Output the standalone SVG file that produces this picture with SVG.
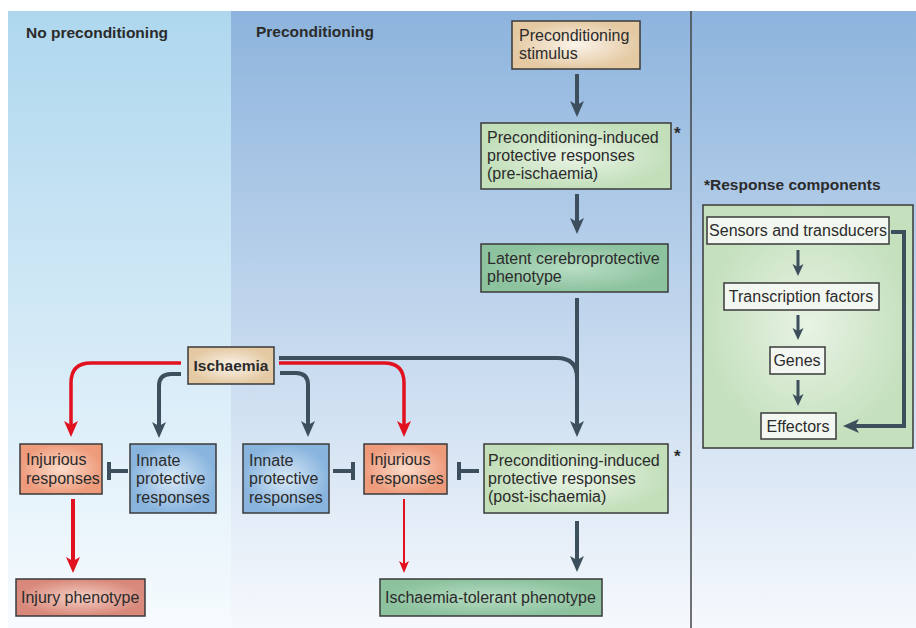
<svg xmlns="http://www.w3.org/2000/svg" width="916" height="628" viewBox="0 0 916 628">
<defs>
<linearGradient id="gL" x1="0" y1="0" x2="0" y2="1"><stop offset="0" stop-color="#aed7ee"/><stop offset="1" stop-color="#f6fbfe"/></linearGradient>
<linearGradient id="gM" x1="0" y1="0" x2="0" y2="1"><stop offset="0" stop-color="#8db4dd"/><stop offset="1" stop-color="#f6f9fd"/></linearGradient>
<radialGradient id="tan"><stop offset="0" stop-color="#fbf4ea"/><stop offset="1" stop-color="#e4c9a3"/></radialGradient>
<radialGradient id="lg"><stop offset="0" stop-color="#eaf4e6"/><stop offset="1" stop-color="#c2dfba"/></radialGradient>
<radialGradient id="dg"><stop offset="0" stop-color="#b8ddc3"/><stop offset="1" stop-color="#8cc29e"/></radialGradient>
<radialGradient id="sal"><stop offset="0" stop-color="#fbdccb"/><stop offset="1" stop-color="#ee9b7c"/></radialGradient>
<radialGradient id="blu"><stop offset="0" stop-color="#d8e9f7"/><stop offset="1" stop-color="#88b4de"/></radialGradient>
<radialGradient id="inj"><stop offset="0" stop-color="#f5cfc4"/><stop offset="1" stop-color="#d8897b"/></radialGradient>
<radialGradient id="rg"><stop offset="0" stop-color="#e8f3e4"/><stop offset="1" stop-color="#c4e0bd"/></radialGradient>
<marker id="ad" markerUnits="userSpaceOnUse" markerWidth="18" markerHeight="16" refX="8" refY="8" orient="auto"><path d="M0,1 L16,8 L0,15 L4,8 z" fill="#3d4f5c"/></marker>
<marker id="ar" markerUnits="userSpaceOnUse" markerWidth="18" markerHeight="16" refX="8" refY="8" orient="auto"><path d="M0,1 L16,8 L0,15 L4,8 z" fill="#e1111f"/></marker>
<marker id="ars" markerUnits="userSpaceOnUse" markerWidth="14" markerHeight="12" refX="6" refY="6" orient="auto"><path d="M0,1 L12,6 L0,11 L3,6 z" fill="#e1111f"/></marker>
<marker id="ads" markerUnits="userSpaceOnUse" markerWidth="14" markerHeight="14" refX="6" refY="6.5" orient="auto"><path d="M0,1 L12,6.5 L0,12 L3,6.5 z" fill="#3d4f5c"/></marker>
</defs>
<style>
text{font-family:"Liberation Sans",Arial,sans-serif;font-size:16px;fill:#2b2b2b}
.t{font-weight:bold;font-size:15.5px}
.a{font-size:17px;font-weight:bold}
.b{stroke:#3a3a3a;stroke-width:1.5}
.w{fill:#f3f7f1;stroke:#3a3a3a;stroke-width:1.5}
.d{fill:none;stroke:#3d4f5c;stroke-width:4}
.r{fill:none;stroke:#e1111f;stroke-width:3.5}
.c{text-anchor:middle}
</style>
<g id="panels">
<rect x="8" y="11" width="223" height="617" fill="url(#gL)"/>
<rect x="231" y="11" width="460" height="617" fill="url(#gM)"/>
<rect x="691" y="11" width="225" height="617" fill="url(#gM)"/>
<line x1="691" y1="11" x2="691" y2="628" stroke="#444" stroke-width="1.5"/>
<text x="26" y="38" class="t">No preconditioning</text>
<text x="256" y="37" class="t">Preconditioning</text>
<text x="704" y="190" class="t">*Response components</text>
</g>
<g id="stimulus"><rect x="512" y="21" width="128" height="48" fill="url(#tan)" class="b"/><text x="519" y="41">Preconditioning</text><text x="519" y="59">stimulus</text></g>
<g id="pre"><rect x="481" y="123" width="190" height="66" fill="url(#lg)" class="b"/><text x="487" y="143">Preconditioning-induced</text><text x="487" y="161">protective responses</text><text x="487" y="179">(pre-ischaemia)</text><text x="674" y="139" class="a">*</text></g>
<g id="latent"><rect x="481" y="244" width="187" height="48" fill="url(#dg)" class="b"/><text x="487" y="264">Latent cerebroprotective</text><text x="487" y="282">phenotype</text></g>
<g id="ischaemia"><rect x="188" y="347" width="86" height="37" fill="url(#tan)" class="b"/><text x="231" y="371" class="t c">Ischaemia</text></g>
<g id="injurious-left"><rect x="20" y="444" width="82" height="50" fill="url(#sal)" class="b"/><text x="26" y="465">Injurious</text><text x="26" y="484">responses</text></g>
<g id="innate-left"><rect x="130" y="444" width="86" height="69" fill="url(#blu)" class="b"/><text x="136" y="466">Innate</text><text x="136" y="484">protective</text><text x="136" y="503">responses</text></g>
<g id="innate-mid"><rect x="243" y="444" width="86" height="69" fill="url(#blu)" class="b"/><text x="249" y="466">Innate</text><text x="249" y="484">protective</text><text x="249" y="503">responses</text></g>
<g id="injurious-right"><rect x="364" y="444" width="83" height="50" fill="url(#sal)" class="b"/><text x="370" y="465">Injurious</text><text x="370" y="484">responses</text></g>
<g id="post"><rect x="484" y="444" width="184" height="69" fill="url(#lg)" class="b"/><text x="488" y="466">Preconditioning-induced</text><text x="488" y="484">protective responses</text><text x="488" y="502">(post-ischaemia)</text><text x="674" y="462" class="a">*</text></g>
<g id="injury-phenotype"><rect x="16" y="579" width="129" height="37" fill="url(#inj)" class="b"/><text x="21" y="603">Injury phenotype</text></g>
<g id="tolerant"><rect x="380" y="579" width="222" height="37" fill="url(#dg)" class="b"/><text x="385" y="603">Ischaemia-tolerant phenotype</text></g>
<g id="components">
<rect x="703" y="205" width="210" height="243" fill="url(#rg)" class="b"/>
<g id="sensors"><rect x="707" y="217" width="182" height="27" class="w"/><text x="798" y="236" class="c">Sensors and transducers</text></g>
<g id="tf"><rect x="724" y="283" width="155" height="27" class="w"/><text x="801" y="302" class="c">Transcription factors</text></g>
<g id="genes"><rect x="770" y="347" width="55" height="27" class="w"/><text x="797" y="366" class="c">Genes</text></g>
<g id="effectors"><rect x="761" y="413" width="75" height="26" class="w"/><text x="798" y="432" class="c">Effectors</text></g>
</g>
<g id="connectors">
<path class="d" d="M577,74 V109" marker-end="url(#ad)"/>
<path class="d" d="M577,194 V226" marker-end="url(#ad)"/>
<path class="d" d="M577,298 V429" marker-end="url(#ad)"/>
<path class="d" d="M577,521 V564" marker-end="url(#ad)"/>
<path class="d" d="M279,358 H557 Q577,358 577,378"/>
<path class="d" d="M280,373 H296 Q308,373 308,385 V429" marker-end="url(#ad)"/>
<path class="d" d="M181,374 H171 Q159,374 159,386 V430" marker-end="url(#ad)"/>
<path class="r" d="M181,363 H91 Q71,363 71,383 V429" marker-end="url(#ar)"/>
<path class="r" d="M279,363 H384 Q404,363 404,383 V429" marker-end="url(#ar)"/>
<path class="d" style="stroke:#e1111f" d="M73,499 V565" marker-end="url(#ar)"/>
<path fill="none" stroke="#e1111f" stroke-width="2" d="M404,499 V567" marker-end="url(#ars)"/>
<path class="d" d="M128,471 H109 M109,462 V480"/>
<path class="d" d="M333,471 H353 M353,462 V480"/>
<path class="d" d="M479,471 H459 M459,462 V480"/>
<path class="d" style="stroke-width:3" d="M798,250 V270" marker-end="url(#ads)"/>
<path class="d" style="stroke-width:3" d="M798,315 V334" marker-end="url(#ads)"/>
<path class="d" style="stroke-width:3" d="M798,380 V400" marker-end="url(#ads)"/>
<path class="d" d="M891,232 H904 V426 H851" marker-end="url(#ad)"/>
</g>
</svg>
